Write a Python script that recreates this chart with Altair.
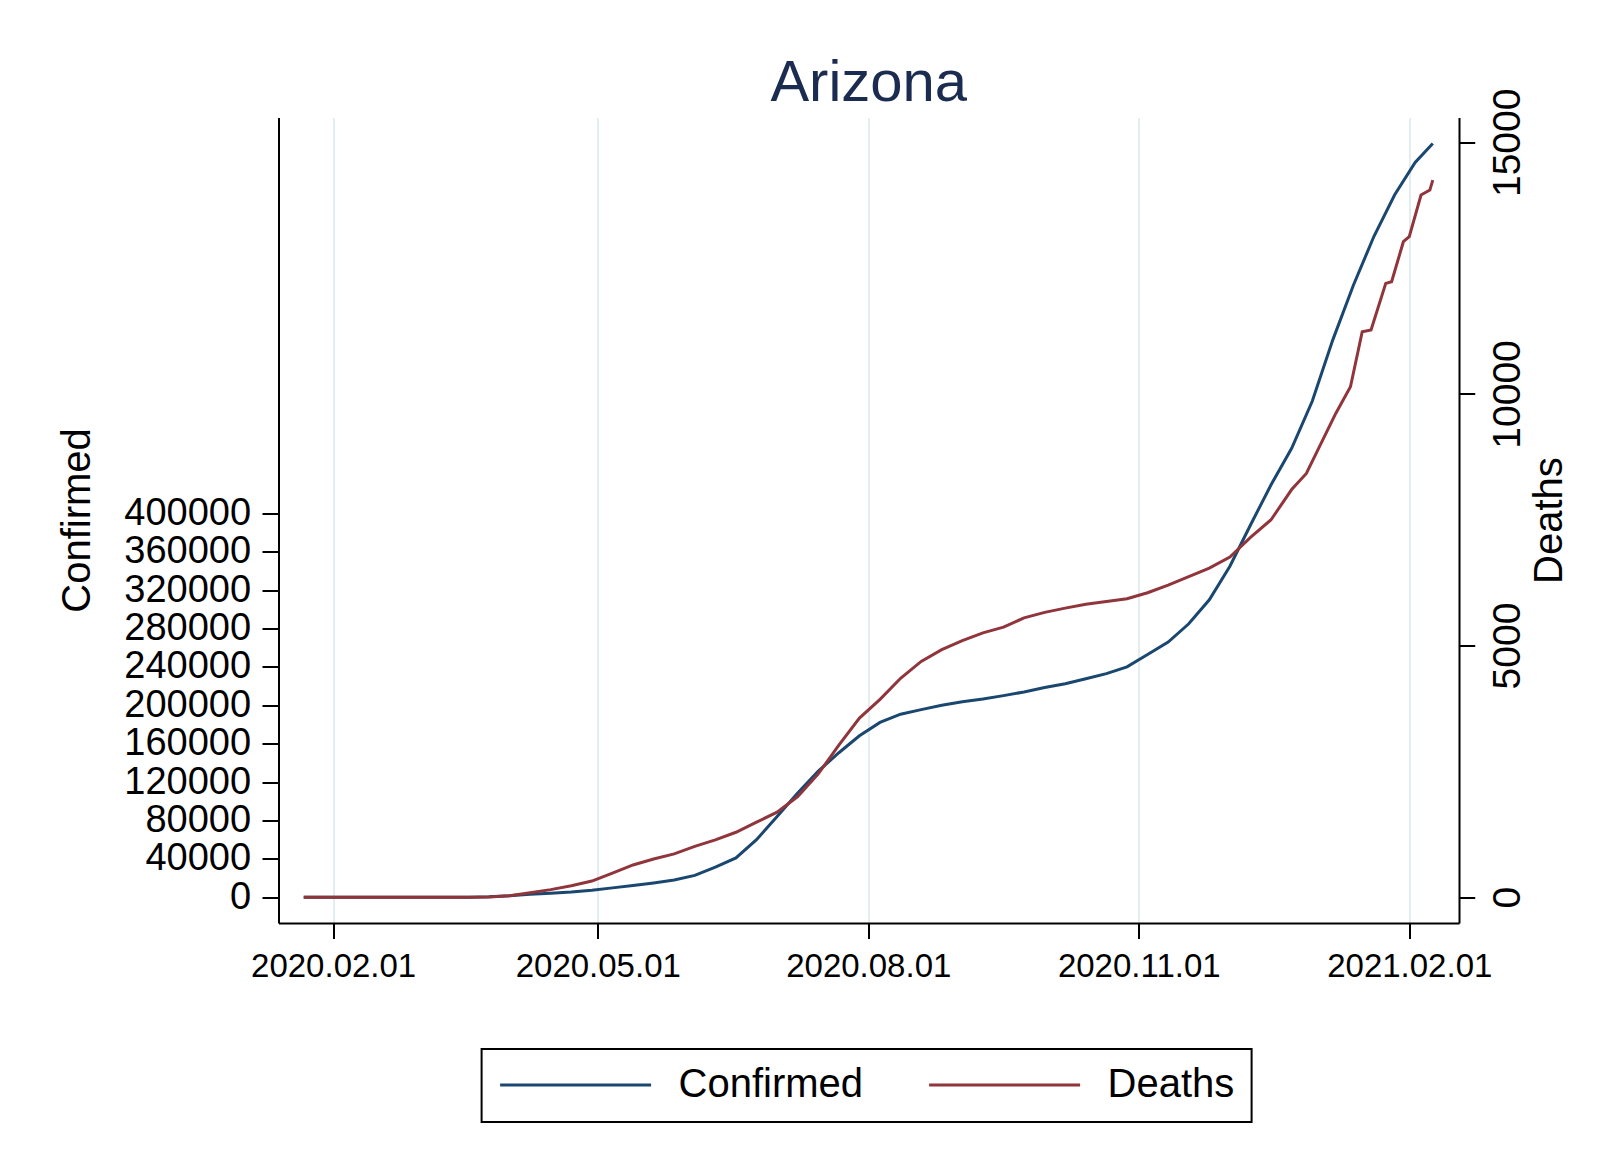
import altair as alt
import pandas as pd

FONT = "Liberation Sans"
NAVY = "#1a476f"
MAROON = "#90353b"
TITLE_COLOR = "#1c2b50"
GRID = "#e3ecef"

# ---- data ----
conf_dates = [
    "2020-01-22", "2020-01-29", "2020-02-05", "2020-02-12", "2020-02-19", "2020-02-26",
    "2020-03-04", "2020-03-11", "2020-03-18", "2020-03-25", "2020-04-01", "2020-04-08",
    "2020-04-15", "2020-04-22", "2020-04-29", "2020-05-06", "2020-05-13", "2020-05-20",
    "2020-05-27", "2020-06-03", "2020-06-10", "2020-06-17", "2020-06-24", "2020-07-01",
    "2020-07-08", "2020-07-15", "2020-07-22", "2020-07-29", "2020-08-05", "2020-08-12",
    "2020-08-19", "2020-08-26", "2020-09-02", "2020-09-09", "2020-09-16", "2020-09-23",
    "2020-09-30", "2020-10-07", "2020-10-14", "2020-10-21", "2020-10-28", "2020-11-04",
    "2020-11-11", "2020-11-18", "2020-11-25", "2020-12-02", "2020-12-09", "2020-12-16",
    "2020-12-23", "2020-12-30", "2021-01-06", "2021-01-13", "2021-01-20", "2021-01-27",
    "2021-02-03", "2021-02-09",
]
conf_values = [
    0, 1, 1, 1, 1, 1,
    2, 9, 28, 401, 1413, 3018,
    4237, 5459, 7202, 9707, 12176, 14906,
    17877, 22753, 31264, 40924, 59974, 84092,
    108614, 131354, 150609, 168273, 182203, 190794,
    195557, 200139, 203814, 206548, 210115, 213988,
    218507, 222538, 227635, 233099, 240122, 253000,
    266000, 285000, 310000, 345000, 388000, 430000,
    468000, 517000, 581000, 638000, 689000, 732000,
    766000, 785600,
]

death_dates = [
    "2020-01-22", "2020-01-29", "2020-02-05", "2020-02-12", "2020-02-19", "2020-02-26",
    "2020-03-04", "2020-03-11", "2020-03-18", "2020-03-25", "2020-04-01", "2020-04-08",
    "2020-04-15", "2020-04-22", "2020-04-29", "2020-05-06", "2020-05-13", "2020-05-20",
    "2020-05-27", "2020-06-03", "2020-06-10", "2020-06-17", "2020-06-24", "2020-07-01",
    "2020-07-08", "2020-07-15", "2020-07-22", "2020-07-29", "2020-08-05", "2020-08-12",
    "2020-08-19", "2020-08-26", "2020-09-02", "2020-09-09", "2020-09-16", "2020-09-23",
    "2020-09-30", "2020-10-07", "2020-10-14", "2020-10-21", "2020-10-28", "2020-11-04",
    "2020-11-11", "2020-11-18", "2020-11-25", "2020-12-02", "2020-12-09", "2020-12-16",
    "2020-12-23", "2020-12-28", "2021-01-02", "2021-01-07", "2021-01-12", "2021-01-16",
    "2021-01-19", "2021-01-24", "2021-01-26", "2021-01-30", "2021-02-01", "2021-02-05",
    "2021-02-08", "2021-02-09",
]
death_values = [
    0, 0, 0, 0, 0, 0,
    0, 0, 0, 6, 29, 89,
    150, 229, 320, 480, 640, 760,
    860, 1010, 1140, 1290, 1490, 1690,
    2000, 2450, 3020, 3560, 3930, 4350,
    4684, 4919, 5100, 5251, 5366, 5551,
    5660, 5744, 5819, 5874, 5930, 6050,
    6200, 6370, 6540, 6760, 7150, 7500,
    8100, 8421, 9017, 9613, 10142, 11236,
    11270, 12197, 12230, 13025, 13124, 13952,
    14051, 14250,
]

series_names = ["Confirmed", "Deaths"]
confirmed_ticks = list(range(0, 400001, 40000))
death_ticks = [0, 5000, 10000, 15000]
x_tick_dates = [(2020, 2, 1), (2020, 5, 1), (2020, 8, 1), (2020, 11, 1), (2021, 2, 1)]

df_c = pd.DataFrame({"date": conf_dates, "value": conf_values, "series": "Confirmed"})
df_d = pd.DataFrame({"date": death_dates, "value": death_values, "series": "Deaths"})

# ---- layout (page pixels) ----
PLOT_L, PLOT_T, PLOT_R, PLOT_B = 278.5, 117.5, 1459.0, 923.0
W = PLOT_R - PLOT_L
H = PLOT_B - PLOT_T

x_enc = alt.X(
    "date:T",
    scale=alt.Scale(
        type="utc",
        domain=[
            alt.DateTime(year=2020, month=1, date=13, hours=10, utc=True),
            alt.DateTime(year=2021, month=2, date=17, hours=22, utc=True),
        ],
    ),
    axis=alt.Axis(
        values=[alt.DateTime(year=y, month=m, date=d, utc=True) for (y, m, d) in x_tick_dates],
        labelExpr="utcFormat(datum.value, '%Y.%m.%d')",
        title=None,
        labelFont=FONT,
        labelFontSize=33,
        labelColor="black",
        labelPadding=12,
        labelFlush=False,
        labelOverlap=False,
        tickSize=15.5,
        tickWidth=2,
        tickColor="black",
        domainColor="black",
        domainWidth=2,
        grid=True,
        gridColor=GRID,
        gridWidth=2,
    ),
)

color_enc = alt.Color(
    "series:N",
    scale=alt.Scale(domain=series_names, range=[NAVY, MAROON]),
    legend=alt.Legend(
        title=None,
        orient="none",
        legendX=203.1,
        legendY=931.5,
        direction="horizontal",
        symbolType="stroke",
        symbolSize=22801,
        symbolStrokeWidth=3,
        clipHeight=38,
        labelFont=FONT,
        labelFontSize=40,
        labelColor="black",
        labelOffset=26,
        labelLimit=500,
        columnPadding=64,
        padding=17,
        strokeColor="black",
        fillColor="white",
    ),
)

conf = alt.Chart(df_c).mark_line(strokeWidth=3).encode(
    x=x_enc,
    y=alt.Y(
        "value:Q",
        scale=alt.Scale(domain=[-26900, 812800], nice=False, zero=False),
        axis=alt.Axis(
            orient="left",
            values=confirmed_ticks,
            format="d",
            labelFont=FONT,
            labelFontSize=38,
            labelColor="black",
            labelPadding=11.4,
            labelOverlap=False,
            tickSize=16.5,
            tickWidth=2,
            tickColor="black",
            domainColor="black",
            domainWidth=2,
            grid=False,
            title="Confirmed",
            titleFont=FONT,
            titleFontSize=40,
            titleFontWeight="normal",
            titleColor="black",
            titleAngle=270,
            titleAlign="center",
            titleBaseline="alphabetic",
            titleX=-189.0,
            titleY=402.5,
        ),
    ),
    color=color_enc,
)

deaths = alt.Chart(df_d).mark_line(strokeWidth=3).encode(
    x=x_enc,
    y=alt.Y(
        "value:Q",
        scale=alt.Scale(domain=[-513, 15493], nice=False, zero=False),
        axis=alt.Axis(
            orient="right",
            values=death_ticks,
            format="d",
            labelFont=FONT,
            labelFontSize=39,
            labelColor="black",
            labelAngle=270,
            labelAlign="center",
            labelBaseline="top",
            labelPadding=14,
            labelOverlap=False,
            tickSize=15.7,
            tickWidth=2,
            tickColor="black",
            domainColor="black",
            domainWidth=2,
            grid=False,
            title="Deaths",
            titleFont=FONT,
            titleFontSize=40,
            titleFontWeight="normal",
            titleColor="black",
            titleAngle=270,
            titleAlign="center",
            titleBaseline="alphabetic",
            titleX=102.0,
            titleY=402.5,
        ),
    ),
    color=color_enc,
)

chart = (
    alt.layer(conf, deaths)
    .resolve_scale(y="independent")
    .properties(
        width=W,
        height=H,
        title=alt.TitleParams(
            "Arizona",
            font=FONT,
            fontSize=58,
            fontWeight="normal",
            color=TITLE_COLOR,
            anchor="middle",
            frame="group",
            baseline="alphabetic",
            offset=-71,
        ),
        autosize=alt.AutoSizeParams(type="none"),
        padding={"left": PLOT_L - 8, "top": PLOT_T - 8, "right": 130, "bottom": 227},
        background="white",
    )
    .configure_view(strokeWidth=0)
    .configure_legend(strokeWidth=2)
)

chart.save("out.html", embed_options={"renderer": "svg", "actions": False})
